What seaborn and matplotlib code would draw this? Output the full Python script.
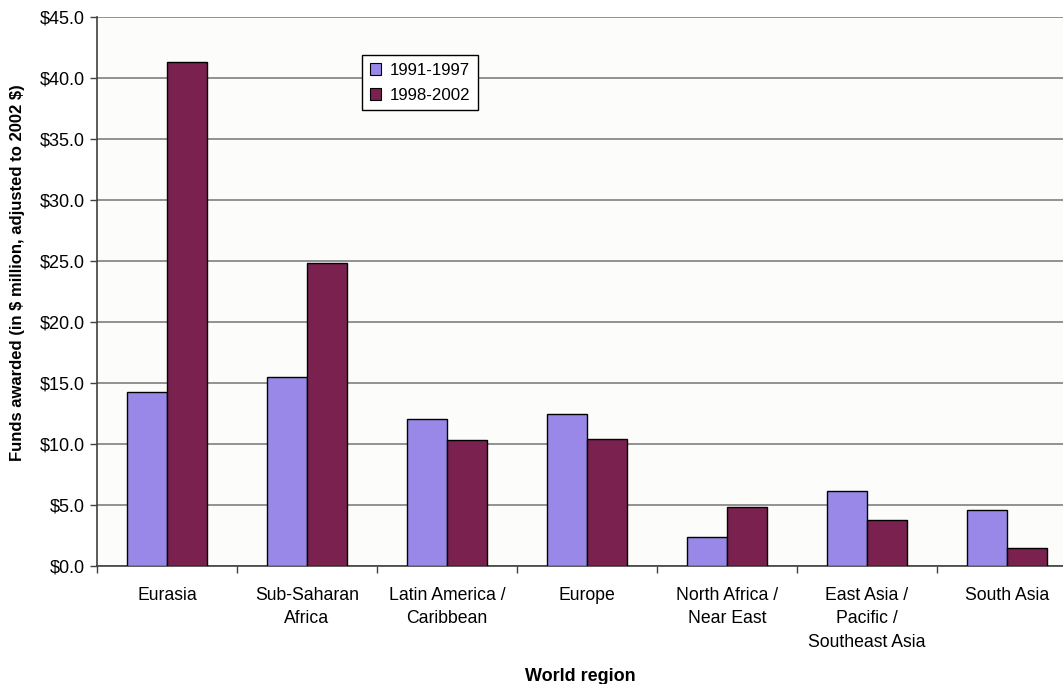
import matplotlib
matplotlib.use('Agg')
import matplotlib.pyplot as plt
import seaborn as sns
import pandas as pd
from matplotlib.ticker import FuncFormatter, FixedLocator

# Data
regions = ['Eurasia', 'Sub-Saharan\nAfrica', 'Latin America /\nCaribbean', 'Europe',
           'North Africa /\nNear East', 'East Asia /\nPacific /\nSoutheast Asia', 'South Asia']
funds_1991_1997 = [14.3, 15.5, 12.05, 12.45, 2.35, 6.15, 4.6]
funds_1998_2002 = [41.3, 24.8, 10.3, 10.4, 4.8, 3.8, 1.45]
periods = ['1991-1997', '1998-2002']

df = pd.DataFrame({
    'region': regions * 2,
    'period': [periods[0]] * len(regions) + [periods[1]] * len(regions),
    'funds': funds_1991_1997 + funds_1998_2002,
})

sns.set_style('white')
plt.rcParams['font.family'] = ['Liberation Sans', 'DejaVu Sans']
plt.rcParams['text.color'] = 'black'
plt.rcParams['axes.labelcolor'] = 'black'
plt.rcParams['xtick.color'] = 'black'
plt.rcParams['ytick.color'] = 'black'

fig = plt.figure(figsize=(10.63, 6.84), dpi=100)
ax = fig.add_axes([97 / 1063, 1 - 566 / 684, 966 / 1063, 549 / 684])
ax.set_facecolor('#fcfcfa')

palette = {'1991-1997': '#9988e8', '1998-2002': '#7a2150'}
sns.barplot(data=df, x='region', y='funds', hue='period', palette=palette,
            width=0.57, gap=0, edgecolor='black', linewidth=1.0, saturation=1,
            errorbar=None, ax=ax, zorder=3)

ax.set_ylim(0, 45)
ax.set_xlim(-0.5, 6.4)
ax.yaxis.set_major_locator(FixedLocator([i * 5 for i in range(10)]))
ax.yaxis.set_major_formatter(FuncFormatter(lambda v, p: f'${v:.1f}'))
ax.grid(axis='y', color='#808080', linewidth=1.2, zorder=0)
ax.set_axisbelow(True)

for s in ['top', 'right']:
    ax.spines[s].set_visible(False)
for s in ['left', 'bottom']:
    ax.spines[s].set_color('#404040')
    ax.spines[s].set_linewidth(1.2)

ax.tick_params(axis='y', which='major', length=5, width=1, color='#404040',
               labelsize=13, direction='out', left=True, pad=4)
ax.tick_params(axis='x', which='major', length=0, labelsize=12.7, pad=15)
ax.set_xticks(range(len(regions)))
ax.set_xticklabels(regions, linespacing=1.5)
ax.set_xticks([i - 0.5 for i in range(len(regions))], minor=True)
ax.tick_params(axis='x', which='minor', length=5, width=1, color='#404040',
               direction='out', bottom=True)

ax.set_xlabel('World region', fontsize=13, fontweight='bold')
ax.xaxis.set_label_coords(0.5, -0.185)
ax.set_ylabel(r'Funds awarded (in \$ million, adjusted to 2002 \$)', fontsize=12,
              fontweight='bold')
ax.yaxis.set_label_coords(-0.0745, 0.535)

leg = ax.legend(loc='upper left', bbox_to_anchor=(362 / 1063, 1 - 55 / 684),
                bbox_transform=fig.transFigure, fontsize=12.2, frameon=True,
                fancybox=False, framealpha=1, edgecolor='black',
                handlelength=0.7, handleheight=0.7, handletextpad=0.5,
                borderpad=0.45, labelspacing=0.6, borderaxespad=0)
leg.get_frame().set_linewidth(1.0)
for h in leg.legend_handles:
    h.set_edgecolor('black')
    h.set_linewidth(0.8)

fig.savefig('out.png', dpi=100, facecolor='white')
